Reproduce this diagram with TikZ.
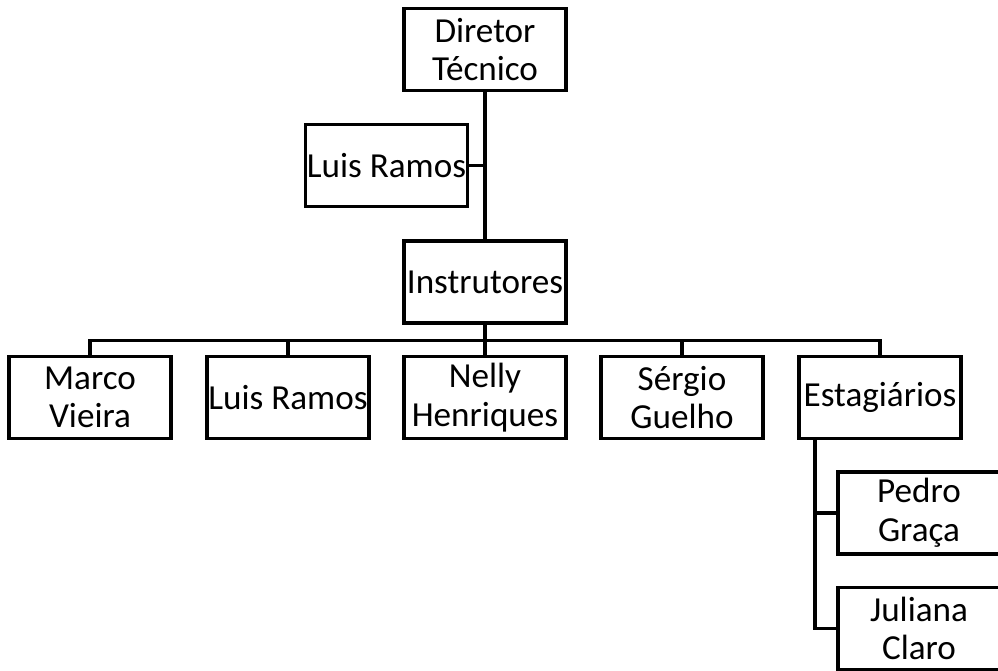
\documentclass[tikz,border=0pt]{standalone}
\usepackage{fontspec}
\setmainfont{Carlito}
\usepackage{tikz}
\usetikzlibrary{calc, positioning}
\tikzstyle{box}=[draw, line width=1.9pt, minimum width=3.24cm, minimum height=1.64cm, inner sep=0pt, align=center, font=\fontsize{20}{22}\selectfont]
\tikzstyle{link}=[line width=1.9pt]

\begin{document}
\begin{tikzpicture}[x=0.02cm, y=-0.02cm]
		\useasboundingbox (0,0) rectangle (998,671);
		\node[box] (dir) at (485, 49.5) {Diretor\\Técnico};
		\node[box] (asst) at (386.5, 165.5) {Luis Ramos};
		\node[box] (instr) at (485, 282) {Instrutores};

		\node[box] (marco) at (90, 397.5) {Marco\\Vieira};
		\node[box] (luis) at (288, 397.5) {Luis Ramos};
		\node[box] (nelly) at (485, 397.5) {Nelly\\Henriques};
		\node[box] (sergio) at (682, 397.5) {Sérgio\\Guelho};
		\node[box] (estag) at (880, 397.5) {Estagiários};

		\node[box] (pedro) at (919, 513) {Pedro\\Graça};
		\node[box] (juliana) at (919, 628.5) {Juliana\\Claro};

		\coordinate (trunk) at (815, 0);

		\draw[link] (dir) -- (instr);
		\draw[link] (asst) -- (asst -| dir);

		\foreach \c in {marco, luis, nelly, sergio, estag}
		\draw[link] (instr.south) -- ++(0,16) -| (\c.north);

		\foreach \c in {pedro, juliana}
		\draw[link] (estag.south -| trunk) |- (\c.west);
	\end{tikzpicture}
\end{document}
